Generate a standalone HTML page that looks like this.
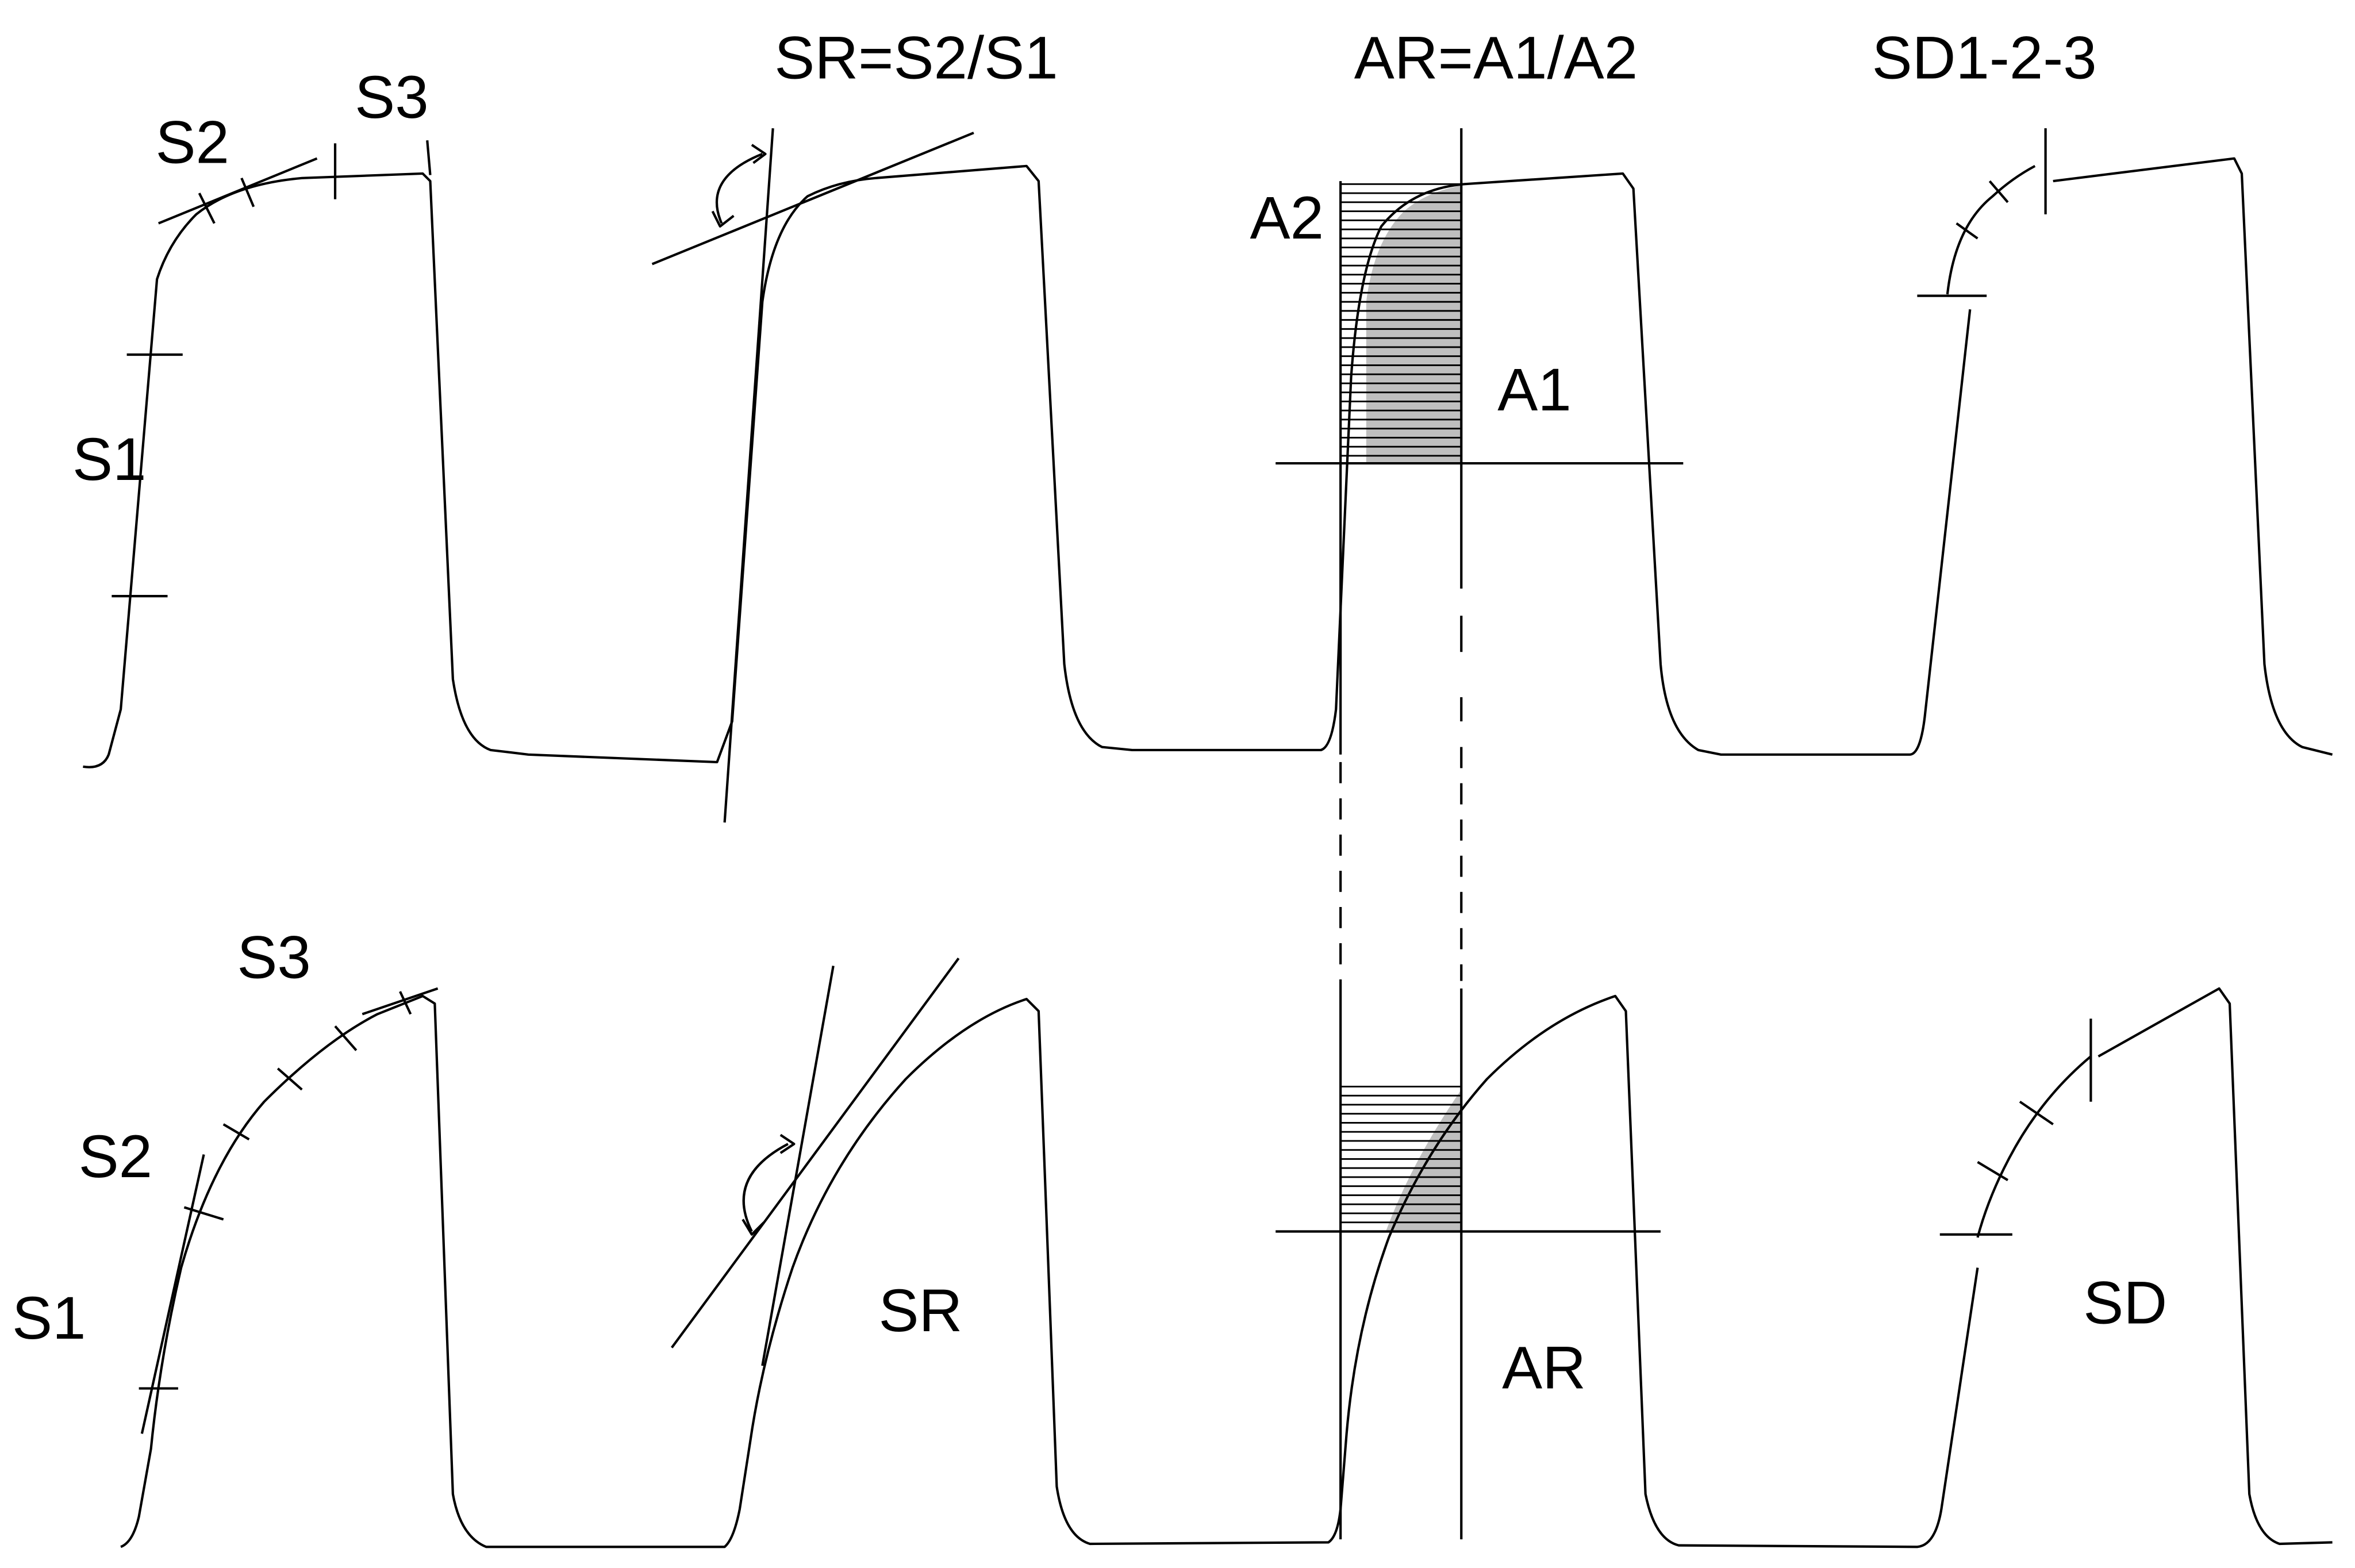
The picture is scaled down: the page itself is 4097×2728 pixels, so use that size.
<!DOCTYPE html>
<html><head><meta charset="utf-8"><style>
html,body{margin:0;padding:0;background:#fff;}
svg{display:block;}
text{font-family:"Liberation Sans",sans-serif;font-size:40px;fill:#000;}
</style></head><body>
<svg width="4097" height="2728" viewBox="0 0 1560 1039" preserveAspectRatio="none" xmlns="http://www.w3.org/2000/svg">
<rect width="1560" height="1039" fill="#fff"/>
<g fill="none" stroke="#000" stroke-width="1.6" stroke-linejoin="round">
<!-- TOP waveform -->
<path d="M55,508 Q68,510 72,500 L80,470 L104,185 Q112,160 130,142 Q155,122 200,118 L280,115 L285,120 L300,450 Q306,490 325,497 L350,500 L475,505
 L485,478 L505,200 Q512,150 535,130 Q555,120 580,118 L680,110 L688,120 L705,440 Q710,485 730,495 L750,497 L875,497
 Q882,495 885,470 L895,250 Q900,180 915,150 Q935,125 970,122 L1075,115 L1082,125 L1100,440 Q1104,485 1125,497 L1140,500 L1265,500
 Q1272,500 1275,475 L1305,205"/>
<path d="M1290,195 Q1295,150 1320,130 Q1333,118 1348,110"/>
<path d="M1360,120 L1480,105 L1485,115 L1500,440 Q1505,485 1525,495 L1545,500"/>
<!-- top beat 1 marks -->
<line x1="84" y1="235" x2="121" y2="235"/>
<line x1="74" y1="395" x2="111" y2="395"/>
<line x1="105" y1="148" x2="210" y2="105"/>
<line x1="132" y1="128" x2="142" y2="148"/>
<line x1="160" y1="118" x2="168" y2="137"/>
<line x1="222" y1="95" x2="222" y2="132"/>
<line x1="283" y1="93" x2="285" y2="116"/>
<!-- top beat 2 marks -->
<line x1="480" y1="545" x2="512" y2="85"/>
<line x1="432" y1="175" x2="645" y2="88"/>
<path d="M478,148 Q465,118 505,102"/>
<path d="M498,96 L507,102 L499,108" />
<path d="M472,140 L477,150 L486,143"/>
<!-- top beat 3 area -->
<line x1="888" y1="120" x2="888" y2="500"/>
<line x1="968" y1="85" x2="968" y2="390"/>
<line x1="968" y1="408" x2="968" y2="432"/>
<line x1="968" y1="462" x2="968" y2="478"/>
<line x1="845" y1="307" x2="1115" y2="307"/>
<!-- dashed connectors -->
<line x1="888" y1="505" x2="888" y2="650" stroke-dasharray="14,10"/>
<line x1="968" y1="495" x2="968" y2="650" stroke-dasharray="14,10"/>
<!-- SD top marks -->
<line x1="1270" y1="196" x2="1316" y2="196"/>
<line x1="1296" y1="148" x2="1310" y2="158"/>
<line x1="1318" y1="120" x2="1330" y2="134"/>
<line x1="1355" y1="85" x2="1355" y2="142"/>

<!-- BOTTOM waveform -->
<path d="M80,1025 Q88,1022 92,1005 L100,960 Q106,900 120,840 Q140,770 175,730 Q215,690 250,672 L280,660 L288,665 L300,990 Q305,1018 322,1025 L480,1025
 Q486,1020 490,1000 L497,955 Q505,900 525,840 Q550,770 600,715 Q640,675 680,662 L688,670 L700,985 Q705,1018 722,1023 L880,1022
 Q886,1018 888,1000 L892,950 Q898,880 920,820 Q945,760 985,715 Q1025,675 1070,660 L1077,670 L1090,990 Q1096,1020 1112,1024 L1270,1025
 Q1282,1024 1286,1000 L1310,840"/>
<path d="M1310,820 Q1318,790 1335,760 Q1355,725 1385,700"/>
<path d="M1390,700 L1470,655 L1477,665 L1490,990 Q1495,1018 1510,1023 L1545,1022"/>
<!-- bottom beat1 marks -->
<line x1="94" y1="950" x2="135" y2="765"/>
<line x1="92" y1="920" x2="118" y2="920"/>
<line x1="122" y1="800" x2="148" y2="808"/>
<line x1="148" y1="745" x2="165" y2="755"/>
<line x1="184" y1="708" x2="200" y2="722"/>
<line x1="222" y1="680" x2="236" y2="696"/>
<line x1="265" y1="657" x2="272" y2="672"/>
<line x1="240" y1="672" x2="290" y2="655"/>
<!-- bottom beat2 marks -->
<line x1="505" y1="905" x2="552" y2="640"/>
<line x1="445" y1="893" x2="635" y2="635"/>
<path d="M522,758 Q480,780 498,816"/>
<path d="M517,752 L526,758 L517,764"/>
<path d="M492,808 L498,818 L506,810"/>
<!-- bottom beat3 area -->
<line x1="888" y1="650" x2="888" y2="1020"/>
<line x1="968" y1="655" x2="968" y2="1020"/>
<line x1="845" y1="816" x2="1100" y2="816"/>
<!-- SD bottom marks -->
<line x1="1285" y1="818" x2="1333" y2="818"/>
<line x1="1310" y1="770" x2="1330" y2="782"/>
<line x1="1338" y1="730" x2="1360" y2="745"/>
<line x1="1385" y1="675" x2="1385" y2="730"/>
</g>
<!-- hatching -->
<g stroke="#000" stroke-width="1">
<script></script>
</g>
<g stroke="#000" stroke-width="1" id="h1"></g>
<g stroke="#000" stroke-width="1.1">
<path d="M888,122H968M888,128H968M888,134H968M888,140H968M888,146H968M888,152H968M888,158H968M888,164H968M888,170H968M888,176H968M888,182H968M888,188H968M888,194H968M888,200H968M888,206H968M888,212H968M888,218H968M888,224H968M888,230H968M888,236H968M888,242H968M888,248H968M888,254H968M888,260H968M888,266H968M888,272H968M888,278H968M888,284H968M888,290H968M888,296H968M888,302H968"/>
<path d="M888,720H968M888,726H968M888,732H968M888,738H968M888,744H968M888,750H968M888,756H968M888,762H968M888,768H968M888,774H968M888,780H968M888,786H968M888,792H968M888,798H968M888,804H968M888,810H968"/>
</g>
<!-- darker fill under curve -->
<path d="M905,307 L905,200 Q910,160 930,140 Q945,127 968,123 L968,307 Z" fill="#000" fill-opacity="0.25"/>
<path d="M918,816 Q935,770 968,722 L968,816 Z" fill="#000" fill-opacity="0.25"/>
<!-- labels -->
<text x="48" y="318">S1</text>
<text x="103" y="108">S2</text>
<text x="235" y="78">S3</text>
<text x="513" y="52">SR=S2/S1</text>
<text x="897" y="52">AR=A1/A2</text>
<text x="1240" y="52">SD1-2-3</text>
<text x="828" y="158">A2</text>
<text x="992" y="272">A1</text>
<text x="157" y="648">S3</text>
<text x="52" y="780">S2</text>
<text x="8" y="887">S1</text>
<text x="582" y="882">SR</text>
<text x="995" y="920">AR</text>
<text x="1380" y="877">SD</text>
</svg>
</body></html>
